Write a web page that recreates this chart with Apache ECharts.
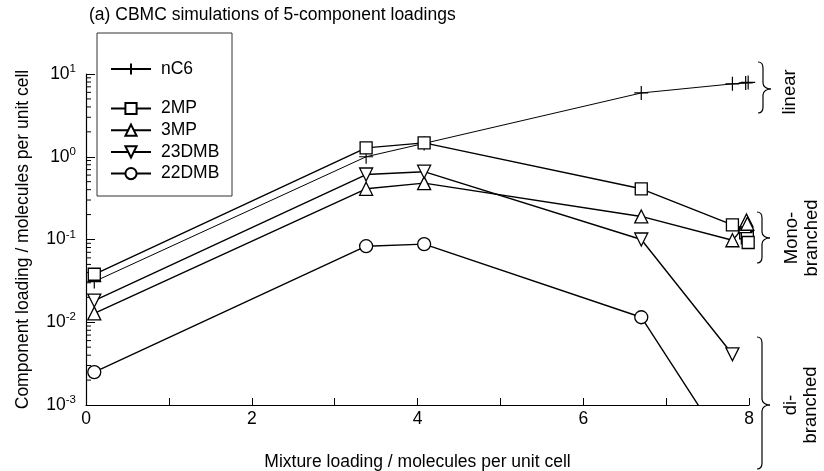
<!DOCTYPE html>
<html>
<head>
<meta charset="utf-8">
<script src="https://cdn.jsdelivr.net/npm/echarts@6/dist/echarts.min.js"></script>
<style>html,body{margin:0;padding:0;background:#fff}#c{width:824px;height:471px}</style>
</head>
<body>
<div id="c"></div>
<script>
// ---- data: [mixture loading, component loading] ----
const nC6   = [[0.1,0.031],[3.38,1.0],[4.08,1.45],[6.7,5.9],[7.8,7.6],[7.96,7.8],[7.99,7.9]];
const mp2   = [[0.1,0.038],[3.38,1.28],[4.08,1.47],[6.7,0.41],[7.8,0.15],[7.96,0.12],[7.98,0.105],[7.99,0.092]];
const mp3   = [[0.1,0.0128],[3.38,0.41],[4.08,0.48],[6.7,0.19],[7.8,0.098],[7.95,0.145],[7.97,0.17],[7.98,0.155]];
const dmb23 = [[0.1,0.0183],[3.38,0.61],[4.08,0.66],[6.7,0.10],[7.8,0.0041]];
const dmb22 = [[0.1,0.0025],[3.38,0.083],[4.08,0.088],[6.7,0.0115],[7.8,0.00023]];
const seriesNames = ['nC6','2MP','3MP','23DMB','22DMB'];
const yMinorTicks = [0.002,0.003,0.004,0.005,0.006,0.007,0.008,0.009,
                     0.02,0.03,0.04,0.05,0.06,0.07,0.08,0.09,
                     0.2,0.3,0.4,0.5,0.6,0.7,0.8,0.9,
                     2,3,4,5,6,7,8,9];

const FONT = 'Liberation Sans, Arial, Helvetica, sans-serif';
const FS = 17.5;
const chart = echarts.init(document.getElementById('c'));

function brace(x0, top, bottom, tip) {
  const v = x0 + 5, t = x0 + 13, s = {stroke:'#000', lineWidth:1.2, fill:'none'};
  return [
    {type:'bezierCurve', shape:{x1:x0,y1:top,cpx1:x0+4,cpy1:top,cpx2:v,cpy2:top+2,x2:v,y2:top+6}, style:s},
    {type:'line', shape:{x1:v,y1:top+6,x2:v,y2:tip-6}, style:s},
    {type:'bezierCurve', shape:{x1:v,y1:tip-6,cpx1:v,cpy1:tip-2,cpx2:v+4,cpy2:tip,x2:t,y2:tip}, style:s},
    {type:'bezierCurve', shape:{x1:t,y1:tip,cpx1:v+4,cpy1:tip,cpx2:v,cpy2:tip+2,x2:v,y2:tip+6}, style:s},
    {type:'line', shape:{x1:v,y1:tip+6,x2:v,y2:bottom-6}, style:s},
    {type:'bezierCurve', shape:{x1:v,y1:bottom-6,cpx1:v,cpy1:bottom-2,cpx2:x0+4,cpy2:bottom,x2:x0,y2:bottom}, style:s}
  ];
}
function vtext(x, y, txt) {
  return {type:'text', x:x, y:y, rotation:Math.PI/2,
    style:{text:txt, font:'18.5px ' + FONT, fill:'#000', align:'center', verticalAlign:'middle', lineHeight:20}};
}

const baseLine = (name, data, symbol, size, extra) => Object.assign({
  name: name, type:'line', data:data, symbol:symbol, symbolSize:size,
  lineStyle:{color:'#000', width:1.4},
  itemStyle:{color:'#fff', borderColor:'#000', borderWidth:1.3},
  emphasis:{disabled:true}, animation:false, clip:true, z:3
}, extra || {});

const legendText = {fontFamily:FONT, fontSize:FS, color:'#000', padding:[0,0,0,5]};

const option = {
  backgroundColor:'#fff',
  animation:false,
  title:{text:'(a) CBMC simulations of 5-component loadings', left:89, top:6, padding:0,
    textStyle:{fontFamily:FONT, fontSize:FS, fontWeight:'normal', color:'#000'}},
  grid:{left:86, right:75, top:74, bottom:66, containLabel:false, outerBoundsMode:'none'},
  legend:[
    {data:[seriesNames[0]], left:110, top:60, padding:0, orient:'vertical', itemWidth:40, itemHeight:14,
     textStyle:legendText, selectedMode:false},
    {data:seriesNames.slice(1), left:110, top:99.5, padding:0, orient:'vertical', itemWidth:40, itemHeight:14, itemGap:3.7,
     textStyle:legendText, selectedMode:false}
  ],
  xAxis:{type:'value', min:0, max:8, interval:1,
    name:'Mixture loading / molecules per unit cell', nameLocation:'middle', nameGap:48,
    nameTextStyle:{fontFamily:FONT, fontSize:FS, color:'#000'},
    axisLine:{lineStyle:{color:'#000', width:1.2}},
    axisTick:{inside:true, length:7, lineStyle:{color:'#000'}},
    axisLabel:{margin:5, fontFamily:FONT, fontSize:FS, color:'#000',
      formatter: v => (v % 2 === 0 ? String(v) : '')},
    splitLine:{show:false}},
  yAxis:{type:'log', logBase:10, min:0.001, max:10,
    name:'Component loading / molecules per unit cell', nameLocation:'middle', nameGap:54,
    nameTextStyle:{fontFamily:FONT, fontSize:FS, color:'#000'},
    axisLine:{lineStyle:{color:'#000', width:1.2}},
    axisTick:{inside:true, length:9, lineStyle:{color:'#000'}},
    axisLabel:{margin:10, color:'#000',
      formatter: v => '{b|10}{s|' + Math.round(Math.log10(v)) + '}',
      rich:{b:{fontFamily:FONT, fontSize:FS, color:'#000'},
            s:{fontFamily:FONT, fontSize:11.5, color:'#000', padding:[0,0,10,0]}}},
    splitLine:{show:false}},
  series:[
    baseLine('nC6', nC6, 'path://M0,-7L0,7M-7,0L7,0', 14,
      {lineStyle:{color:'#000', width:1}, itemStyle:{color:'#000', borderColor:'#000', borderWidth:1.2}}),
    baseLine('2MP', mp2, 'rect', 12),
    baseLine('3MP', mp3, 'triangle', 13),
    baseLine('23DMB', dmb23, 'triangle', 13, {symbolRotate:180}),
    baseLine('22DMB', dmb22, 'circle', 13),
    {type:'custom', name:'minorTicks', silent:true, animation:false, z:2,
     data: yMinorTicks.map(v => [0, v]),
     renderItem:(params, api) => {
       const p = api.coord([0, api.value(1)]);
       return {type:'line', shape:{x1:p[0], y1:p[1], x2:p[0] + 5, y2:p[1]},
               style:{stroke:'#000', lineWidth:1}};
     }}
  ],
  graphic:[
    {type:'rect', shape:{x:97, y:33, width:135, height:163}, style:{fill:'none', stroke:'#333', lineWidth:1}},
    ...brace(758, 62, 113, 89),
    ...brace(757, 212, 263, 238),
    ...brace(757, 337, 469, 405),
    vtext(790, 92, 'linear'),
    vtext(802, 238, 'Mono-\nbranched'),
    vtext(801, 405, 'di-\nbranched')
  ]
};
chart.setOption(option);
</script>
</body>
</html>
